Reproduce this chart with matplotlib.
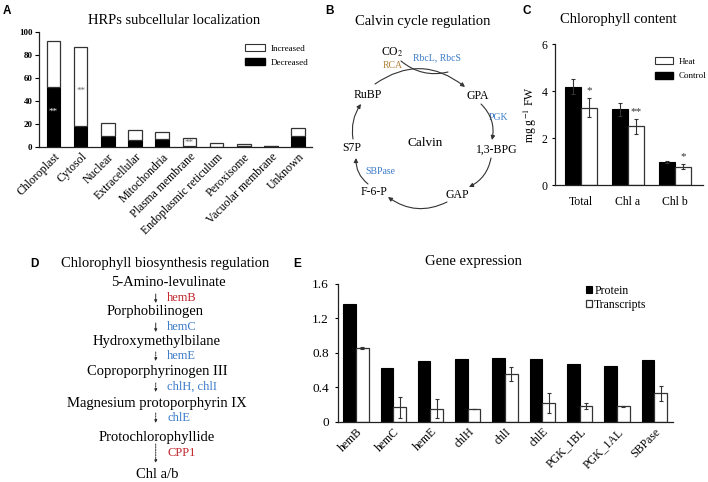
import matplotlib
matplotlib.use('Agg')
import matplotlib.pyplot as plt
import numpy as np
from matplotlib.patches import Patch

plt.rcParams['font.family'] = ['Liberation Serif', 'DejaVu Serif']
plt.rcParams['mathtext.fontset'] = 'stix'

# ---------------- data ----------------
loc_categories = ['Chloroplast', 'Cytosol', 'Nuclear', 'Extracellular', 'Mitochondria',
                  'Plasma membrane', 'Endoplasmic reticulum', 'Peroxisome',
                  'Vacuolar membrane', 'Unknown']
loc_decreased = [52, 18, 9, 6, 7, 1, 0, 1, 1, 9]
loc_increased = [40, 69, 12, 9, 6, 7, 3, 1, 0, 7]
loc_yticks = [0, 20, 40, 60, 80, 100]

chl_groups = ['Total', 'Chl a', 'Chl b']
chl_control = [4.19, 3.23, 0.97]
chl_control_err = [0.32, 0.28, 0.05]
chl_heat = [3.30, 2.50, 0.78]
chl_heat_err = [0.40, 0.33, 0.10]
chl_sig = ['*', '**', '*']
chl_yticks = [0, 2, 4, 6]

genes = ['hemB', 'hemC', 'hemE', 'chlH', 'chlI', 'chlE', 'PGK_1BL', 'PGK_1AL', 'SBPase']
protein = [1.37, 0.62, 0.71, 0.73, 0.74, 0.725, 0.665, 0.645, 0.72]
transcripts = [0.855, 0.165, 0.15, 0.143, 0.55, 0.216, 0.183, 0.18, 0.33]
transcripts_err = [0.012, 0.12, 0.11, 0.0, 0.08, 0.12, 0.04, 0.005, 0.085]
gene_yticks = [0, 0.4, 0.8, 1.2, 1.6]
gene_yticklabels = ['0', '0.4', '0.8', '1.2', '1.6']

pathway_compounds = ['5-Amino-levulinate', 'Porphobilinogen', 'Hydroxymethylbilane',
                     'Coproporphyrinogen III', 'Magnesium protoporphyrin IX',
                     'Protochlorophyllide', 'Chl a/b']
pathway_enzymes = ['hemB', 'hemC', 'hemE', 'chlH, chlI', 'chlE', 'CPP1']

RED = '#c1272d'
BLUE = '#3b7bc8'
BROWN = '#b5823a'

W, H = 708, 482
fig = plt.figure(figsize=(7.08, 4.82), dpi=100)


def ax_px(x0, y0, x1, y1):
    return fig.add_axes([x0 / W, 1 - y1 / H, (x1 - x0) / W, (y1 - y0) / H])


def style_axes(ax):
    for s in ['top', 'right']:
        ax.spines[s].set_visible(False)
    for s in ['left', 'bottom']:
        ax.spines[s].set_color('#222222')
        ax.spines[s].set_linewidth(0.9)


def fig_legend(ax, handles, labels, x, y, fs, **kw):
    return ax.legend(handles, labels, loc='upper left',
                     bbox_to_anchor=(x / W, 1 - y / H), bbox_transform=fig.transFigure,
                     frameon=False, borderpad=0, borderaxespad=0, fontsize=fs, **kw)


# ---------------- Panel A ----------------
axA = ax_px(39.3, 32.3, 311.7, 146.7)
xa = np.arange(len(loc_categories))
axA.bar(xa, loc_decreased, 0.5, color='black', edgecolor='black', linewidth=0.8)
axA.bar(xa, loc_increased, 0.5, bottom=loc_decreased, color='white',
        edgecolor='#333333', linewidth=0.9)
axA.set_xlim(-0.52, 9.5)
axA.set_ylim(0, 100)
axA.set_yticks(loc_yticks)
axA.set_yticklabels([str(v) for v in loc_yticks], fontsize=6.5, fontweight='bold')
axA.set_xticks(xa)
axA.set_xticklabels(loc_categories, fontsize=8.5, rotation=45, ha='right',
                    rotation_mode='anchor')
axA.tick_params(axis='x', length=0, pad=3)
axA.tick_params(axis='y', length=3, width=0.8, pad=2)
style_axes(axA)
axA.text(0, 30, '**', ha='center', va='center', color='white', fontsize=6.5)
axA.text(1, 49, '**', ha='center', va='center', color='#666666', fontsize=6.5)
axA.text(5, 3.5, '**', ha='center', va='center', color='#666666', fontsize=6.5)
fig_legend(axA, [Patch(facecolor='white', edgecolor='#333333', linewidth=0.8),
                 Patch(facecolor='black', edgecolor='black')],
           ['Increased', 'Decreased'], 245, 44, 6.5,
           handlelength=2.2, handleheight=0.8, handletextpad=0.6, labelspacing=0.6)

# ---------------- Panel C ----------------
axC = ax_px(555, 44.3, 703, 185)
xc = np.arange(len(chl_groups))
bw = 0.34
axC.bar(xc - bw / 2, chl_control, bw, color='black', edgecolor='black', linewidth=0.8)
axC.bar(xc + bw / 2, chl_heat, bw, color='white', edgecolor='#333333', linewidth=0.9)
axC.errorbar(xc - bw / 2, chl_control, yerr=chl_control_err, fmt='none',
             ecolor='#333333', elinewidth=0.8, capsize=1.5, capthick=0.8)
axC.errorbar(xc + bw / 2, chl_heat, yerr=chl_heat_err, fmt='none',
             ecolor='#333333', elinewidth=0.8, capsize=1.5, capthick=0.8)
for i, s in enumerate(chl_sig):
    axC.text(xc[i] + bw / 2, chl_heat[i] + chl_heat_err[i] + 0.12, s,
             ha='center', va='bottom', fontsize=8, color='#333333')
axC.set_xlim(-0.55, 2.6)
axC.set_ylim(0, 6)
axC.set_yticks(chl_yticks)
axC.set_yticklabels([str(v) for v in chl_yticks], fontsize=8.5)
axC.set_xticks(xc)
axC.set_xticklabels(chl_groups, fontsize=8.5)
axC.tick_params(axis='x', length=0, pad=8)
axC.tick_params(axis='y', length=2.5, width=0.8, pad=3)
axC.set_ylabel(r'mg g$^{-1}$ FW', fontsize=8.5, labelpad=2)
style_axes(axC)
fig_legend(axC, [Patch(facecolor='white', edgecolor='#333333', linewidth=0.8),
                 Patch(facecolor='black', edgecolor='black')],
           ['Heat', 'Control'], 655, 57, 6.5,
           handlelength=2.0, handleheight=0.8, handletextpad=0.65, labelspacing=0.7)

# ---------------- Panel E ----------------
axE = ax_px(338, 284, 673.3, 421.7)
xe = np.arange(len(genes))
axE.bar(xe - bw / 2, protein, bw, color='black', edgecolor='black', linewidth=0.8,
        label='Protein')
axE.bar(xe + bw / 2, transcripts, bw, color='white', edgecolor='#333333',
        linewidth=0.9, label='Transcripts')
axE.errorbar(xe + bw / 2, transcripts, yerr=transcripts_err, fmt='none',
             ecolor='#333333', elinewidth=0.8, capsize=1.2, capthick=0.8)
axE.set_xlim(-0.48, 8.51)
axE.set_ylim(0, 1.6)
axE.set_yticks(gene_yticks)
axE.set_yticklabels(gene_yticklabels, fontsize=9.5)
axE.set_xticks(xe)
axE.set_xticklabels(genes, fontsize=8.5, rotation=45, ha='right', rotation_mode='anchor')
axE.tick_params(axis='x', length=0, pad=3)
axE.tick_params(axis='y', length=2.5, width=0.8, pad=4)
style_axes(axE)
hE, lE = axE.get_legend_handles_labels()
fig_legend(axE, hE, lE, 586, 285, 8.5,
           handlelength=0.5, handleheight=0.5, handletextpad=0.2, labelspacing=0.15)

# ---------------- overlay for titles & diagrams ----------------
ov = fig.add_axes([0, 0, 1, 1], zorder=-1)
ov.set_xlim(0, W)
ov.set_ylim(H, 0)
ov.axis('off')

TFS = 10.5
ov.text(174, 20, 'HRPs subcellular localization', ha='center', va='center', fontsize=TFS)
ov.text(423, 22, 'Calvin cycle regulation', ha='center', va='center', fontsize=TFS)
ov.text(618, 20, 'Chlorophyll content', ha='center', va='center', fontsize=TFS)
ov.text(165, 263, 'Chlorophyll biosynthesis regulation', ha='center', va='center',
        fontsize=TFS)
ov.text(473, 261, 'Gene expression', ha='center', va='center', fontsize=TFS)

LFS = 8.5
for lab, (x, y) in zip('ABCDE', [(6.5, 11), (329.5, 11.5), (527, 11.5), (34, 264), (297.5, 264)]):
    ov.text(x, y, lab, ha='center', va='center', fontsize=LFS, fontweight='bold',
            family=['Liberation Sans', 'DejaVu Sans'])

# Panel B: Calvin cycle
NFS = 8.5
EFS = 7
nodes = {'CO2': (392, 52), 'GPA': (478, 96), '1,3-BPG': (497, 150), 'GAP': (457, 195),
         'F-6-P': (374, 192), 'S7P': (352, 148), 'RuBP': (368, 95)}
for name, (x, y) in nodes.items():
    txt = r'CO$_2$' if name == 'CO2' else name
    ov.text(x, y, txt, ha='center', va='center', fontsize=NFS)
ov.text(425, 143, 'Calvin', ha='center', va='center', fontsize=9.5)
ov.text(437, 58, 'RbcL, RbcS', ha='center', va='center', fontsize=EFS, color=BLUE)
ov.text(393, 66, 'RCA', ha='center', va='center', fontsize=EFS, color=BROWN)
ov.text(498, 117, 'PGK', ha='center', va='center', fontsize=EFS, color=BLUE)
ov.text(380, 171, 'SBPase', ha='center', va='center', fontsize=EFS, color=BLUE)

arrow_kw = dict(arrowstyle='-|>', color='#333333', lw=0.8, mutation_scale=6,
                shrinkA=0, shrinkB=0)
cycle_arrows = [((375, 84), (465, 87), -0.37),
                ((481, 104), (492, 140), -0.27),
                ((491, 158), (469, 187), -0.25),
                ((447, 202), (388, 197), -0.3),
                ((368, 184), (356, 158), -0.25),
                ((353, 139), (361, 104), -0.2)]
for (s, e, r) in cycle_arrows:
    ov.annotate('', xy=e, xytext=s,
                arrowprops=dict(connectionstyle=f'arc3,rad={r}', **arrow_kw))
ov.annotate('', xy=(448, 72), xytext=(401, 61),
            arrowprops=dict(arrowstyle='-', color='#333333', lw=0.8,
                            connectionstyle='arc3,rad=0.25', shrinkA=0, shrinkB=0))

# Panel D: chlorophyll pathway
compound_y = [282, 312, 342, 372, 403, 437, 475]
compound_x = [168, 155, 157, 157, 157, 157, 157]
for c, x, y in zip(pathway_compounds, compound_x, compound_y):
    ov.text(x, y, c, ha='center', va='center', fontsize=10.5)
enzyme_y = [298, 327, 356, 387, 418, 453]
enzyme_col = [RED, BLUE, BLUE, BLUE, BLUE, RED]
arrow_span = [(294, 303), (323, 332), (352, 361), (383, 392), (413, 423), (444, 463)]
for i, (e, y, col, (a0, a1)) in enumerate(zip(pathway_enzymes, enzyme_y, enzyme_col, arrow_span)):
    ov.text(167, y, e, ha='left', va='center', fontsize=9, color=col)
    ls = '-' if i < 2 else (0, (1.5, 1.2))
    ov.annotate('', xy=(155.7, a1), xytext=(155.7, a0),
                arrowprops=dict(arrowstyle='-|>', color='#333333', lw=0.7,
                                mutation_scale=4, shrinkA=0, shrinkB=0, linestyle=ls))

fig.savefig('out.png', dpi=100)
